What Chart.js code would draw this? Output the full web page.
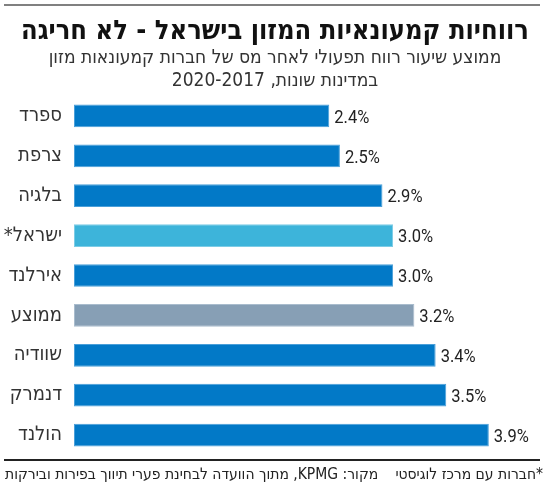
<!DOCTYPE html>
<html lang="he">
<head>
<meta charset="utf-8">
<script src="https://cdn.jsdelivr.net/npm/chart.js@4.4.0/dist/chart.umd.min.js"></script>
<style>
  body { margin: 0; background: #fff; width: 550px; height: 489px; position: relative; overflow: hidden;
         font-family: "Liberation Sans Narrow", "DejaVu Sans Condensed", sans-serif; color: #222; }
  .chart-box { position: absolute; left: 0; top: 0; width: 550px; height: 489px; }
  .title { position: absolute; left: 0; width: 550px; top: 14px; text-align: center; direction: rtl;
           font-size: 27px; font-weight: bold; color: #111; line-height: 32px; }
  .subtitle { position: absolute; left: 0; width: 550px; top: 45px; text-align: center; direction: rtl;
              font-size: 19px; line-height: 23px; color: #333; }
  .foot span { position: absolute; top: 464px; font-size: 15.5px; line-height: 20px; color: #222; direction: rtl; white-space: nowrap; }
  .foot .note { right: 7px; }
  .foot .src { left: 5px; }
  hr.rule { position: absolute; left: 4px; width: 536px; margin: 0; border: 0; height: 2px; }
</style>
</head>
<body>
<div class="chart-box"><canvas id="chart"></canvas></div>
<hr class="rule" style="top:4px; background:#808080;">
<hr class="rule" style="top:459px; background:#222;">
<div class="title">רווחיות קמעונאיות המזון בישראל - לא חריגה</div>
<div class="subtitle">ממוצע שיעור רווח תפעולי לאחר מס של חברות קמעונאות מזון<br>במדינות שונות, 2020-2017</div>
<div class="foot">
  <span class="note">*חברות עם מרכז לוגיסטי</span>
  <span class="src">מקור: KPMG, מתוך הוועדה לבחינת פערי תיווך בפירות ובירקות</span>
</div>

<script>
// average operating profit after tax, percent
const countries = ['ספרד', 'צרפת', 'בלגיה', 'ישראל*\u200F', 'אירלנד', 'ממוצע', 'שוודיה', 'דנמרק', 'הולנד'];
const values = [2.4, 2.5, 2.9, 3.0, 3.0, 3.2, 3.4, 3.5, 3.9];

const blue = '#0279c7';
const lightBlue = '#3db4da';
const grey = '#879fb5';

const barColors = countries.map(c => c.startsWith('ישראל') ? lightBlue : (c === 'ממוצע' ? grey : blue));
const barBorders = countries.map(c => c.startsWith('ישראל') ? '#7cccE6' : (c === 'ממוצע' ? '#a9bccd' : '#4a9fd9'));

// value labels to the right of each bar (squeezed a bit, the original uses a condensed face)
const valueLabels = {
    id: 'valueLabels',
    afterDatasetsDraw(chart) {
        const ctx = chart.ctx;
        const meta = chart.getDatasetMeta(0);
        meta.data.forEach((bar, i) => {
            ctx.save();
            ctx.font = '19px Roboto, "DejaVu Sans", sans-serif';
            ctx.fillStyle = '#222';
            ctx.textAlign = 'left';
            ctx.textBaseline = 'middle';
            ctx.translate(bar.x + 5, bar.y + 2);
            ctx.scale(0.87, 1);
            ctx.fillText(values[i].toFixed(1) + '%', 0, 0);
            ctx.restore();
        });
    }
};

new Chart(document.getElementById('chart'), {
    type: 'bar',
    data: {
        labels: countries,
        datasets: [{
            data: values,
            backgroundColor: barColors,
            borderColor: barBorders,
            borderWidth: 1,
            borderSkipped: false,
            categoryPercentage: 1,
            barPercentage: 0.57
        }]
    },
    options: {
        indexAxis: 'y',
        responsive: true,
        maintainAspectRatio: false,
        animation: false,
        layout: { padding: { right: 8, top: 96, bottom: 34, left: 0 } },
        plugins: {
            legend: { display: false },
            tooltip: { enabled: false }
        },
        scales: {
            x: { display: false, min: 0, max: 4.4 },
            y: {
                grid: { display: false, drawTicks: false },
                border: { display: false },
                ticks: {
                    padding: 12,
                    color: '#333',
                    font: { family: '"Liberation Sans Narrow", "DejaVu Sans Condensed", sans-serif', size: 20 }
                },
                afterFit(scale) {
                    scale.width = 74;
                    scale.paddingTop = 0;
                    scale.paddingBottom = 0;
                }
            }
        }
    },
    plugins: [valueLabels]
});
</script>
</body>
</html>
